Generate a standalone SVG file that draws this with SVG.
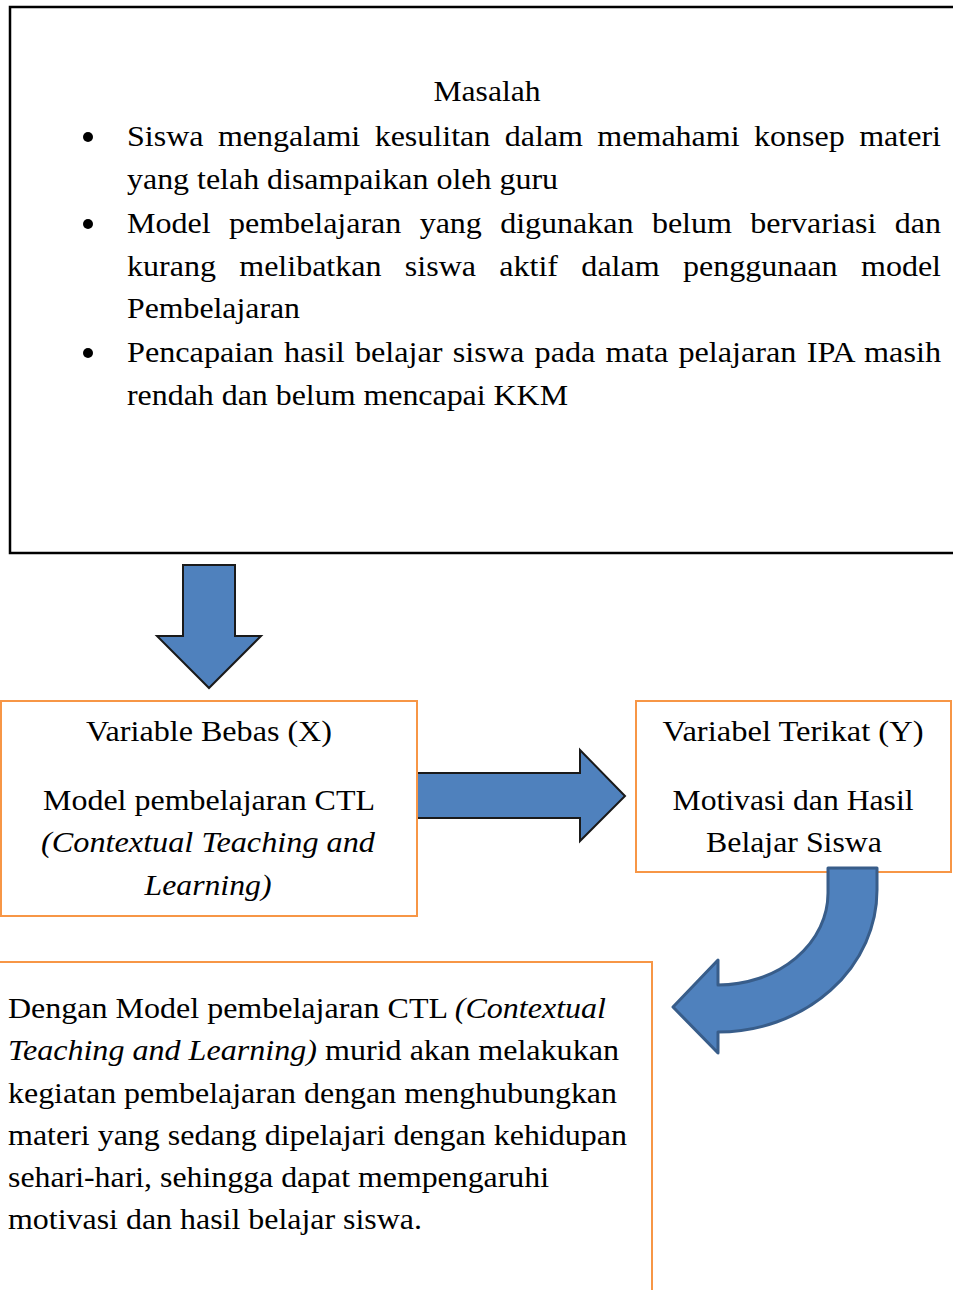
<svg xmlns="http://www.w3.org/2000/svg" width="953" height="1290" viewBox="0 0 953 1290">
<style>
text{font-family:"Liberation Serif","Times New Roman",serif;font-size:30px;fill:#000}
.c{text-anchor:middle}
.i{font-style:italic}
.ob{fill:#fff;stroke:#F79646;stroke-width:2}
.arr{fill:#4F81BD;stroke:#1a1a1a;stroke-width:2;stroke-linejoin:miter}
.carr{fill:#4F81BD;stroke:#385D8A;stroke-width:3;stroke-linejoin:round}
</style>
<rect width="953" height="1290" fill="#fff"/>
<g id="masalah">
<rect x="10" y="7" width="960" height="546" fill="#fff" stroke="#000" stroke-width="2.5"/>
<text class="c" x="487" y="101" textLength="107" lengthAdjust="spacingAndGlyphs">Masalah</text>
<circle cx="88" cy="137" r="5"/>
<circle cx="88" cy="224" r="5"/>
<circle cx="88" cy="353" r="5"/>
<text x="127" y="146" word-spacing="6" textLength="814" lengthAdjust="spacingAndGlyphs">Siswa mengalami kesulitan dalam memahami konsep materi</text>
<text x="127" y="189" textLength="431" lengthAdjust="spacingAndGlyphs">yang telah disampaikan oleh guru</text>
<text x="127" y="233" word-spacing="9.7" textLength="814" lengthAdjust="spacingAndGlyphs">Model pembelajaran yang digunakan belum bervariasi dan</text>
<text x="127" y="276" word-spacing="14.4" textLength="814" lengthAdjust="spacingAndGlyphs">kurang melibatkan siswa aktif dalam penggunaan model</text>
<text x="127" y="318" textLength="173" lengthAdjust="spacingAndGlyphs">Pembelajaran</text>
<text x="127" y="362" word-spacing="2" textLength="814" lengthAdjust="spacingAndGlyphs">Pencapaian hasil belajar siswa pada mata pelajaran IPA masih</text>
<text x="127" y="405" textLength="441" lengthAdjust="spacingAndGlyphs">rendah dan belum mencapai KKM</text>
</g>
<g id="connectors">
<polygon class="arr" points="183,565 235,565 235,636 261,636 209,688 157,636 183,636"/>
<polygon class="arr" points="410,773 580,773 580,750 625,796 580,841 580,818 410,818"/>
</g>
<g id="variabel-x">
<rect class="ob" x="1" y="701" width="416" height="215"/>
<text class="c" x="209" y="741" textLength="246" lengthAdjust="spacingAndGlyphs">Variable Bebas (X)</text>
<text class="c" x="209" y="810" textLength="332" lengthAdjust="spacingAndGlyphs">Model pembelajaran CTL</text>
<text class="c i" x="208" y="852" textLength="334" lengthAdjust="spacingAndGlyphs">(Contextual Teaching and</text>
<text class="c i" x="208" y="895" textLength="127" lengthAdjust="spacingAndGlyphs">Learning)</text>
</g>
<g id="variabel-y">
<rect class="ob" x="636" y="701" width="315" height="171"/>
<text class="c" x="793" y="741" textLength="261" lengthAdjust="spacingAndGlyphs">Variabel Terikat (Y)</text>
<text class="c" x="793" y="810" textLength="241" lengthAdjust="spacingAndGlyphs">Motivasi dan Hasil</text>
<text class="c" x="794" y="852" textLength="176" lengthAdjust="spacingAndGlyphs">Belajar Siswa</text>
</g>
<g id="kesimpulan">
<rect class="ob" x="-5" y="962" width="657" height="400"/>
<text x="8" y="1018" textLength="598" lengthAdjust="spacingAndGlyphs">Dengan Model pembelajaran CTL <tspan class="i">(Contextual</tspan></text>
<text x="8" y="1060" textLength="611" lengthAdjust="spacingAndGlyphs"><tspan class="i">Teaching and Learning)</tspan> murid akan melakukan</text>
<text x="8" y="1103" textLength="609" lengthAdjust="spacingAndGlyphs">kegiatan pembelajaran dengan menghubungkan</text>
<text x="8" y="1145" textLength="619" lengthAdjust="spacingAndGlyphs">materi yang sedang dipelajari dengan kehidupan</text>
<text x="8" y="1187" textLength="541" lengthAdjust="spacingAndGlyphs">sehari-hari, sehingga dapat mempengaruhi</text>
<text x="8" y="1229" textLength="414" lengthAdjust="spacingAndGlyphs">motivasi dan hasil belajar siswa.</text>
</g>
<g id="connectors-curved">
<path class="carr" d="M 828 868 L 877 868 L 877 890 A 159 142 0 0 1 718 1032 L 718 1053 L 673 1007 L 718 960 L 718 985 A 110 92 0 0 0 828 893 Z"/>
</g>
</svg>
